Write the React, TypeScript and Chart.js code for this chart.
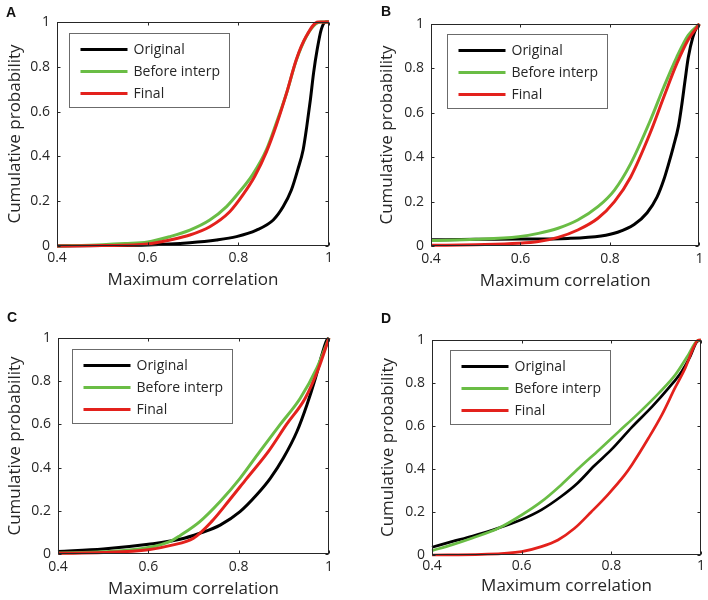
import React, { useEffect, useRef } from "react";
import { Chart, registerables } from "chart.js";

Chart.register(...registerables);

// ---------- data ----------
const SERIES_NAMES = ["Original", "Before interp", "Final"];
const SERIES_COLORS = ["#000000", "#6abd45", "#e3211c"];
const X_TICKS = [0.4, 0.6, 0.8, 1];
const Y_TICKS = [0, 0.2, 0.4, 0.6, 0.8, 1];
const X_TITLE = "Maximum correlation";
const Y_TITLE = "Cumulative probability";
const PANEL_LETTERS = ["A", "B", "C", "D"];

// Panel A
const A_ORIGINAL_X = [0.4, 0.5, 0.6, 0.693, 0.752, 0.796, 0.84, 0.877, 0.899, 0.917, 0.931, 0.943, 0.951, 0.959, 0.966, 0.974, 0.983, 0.993, 1.0];
const A_ORIGINAL_Y = [0, 0.002, 0.005, 0.015, 0.027, 0.042, 0.071, 0.116, 0.176, 0.25, 0.34, 0.43, 0.534, 0.654, 0.773, 0.878, 0.967, 1.0, 1.0];
const A_BEFORE_X = [0.4, 0.5, 0.55, 0.6, 0.649, 0.693, 0.737, 0.774, 0.803, 0.832, 0.862, 0.884, 0.906, 0.928, 0.95, 0.97, 0.982, 1.0];
const A_BEFORE_Y = [0, 0.006, 0.011, 0.018, 0.042, 0.071, 0.116, 0.176, 0.243, 0.32, 0.43, 0.55, 0.68, 0.83, 0.935, 0.99, 1.0, 1.0];
const A_FINAL_X = [0.4, 0.5, 0.6, 0.649, 0.693, 0.737, 0.781, 0.81, 0.836, 0.862, 0.884, 0.906, 0.928, 0.95, 0.976, 1.0];
const A_FINAL_Y = [0, 0.002, 0.009, 0.027, 0.049, 0.086, 0.153, 0.228, 0.31, 0.42, 0.54, 0.68, 0.833, 0.937, 1.0, 1.0];

// Panel B
const B_ORIGINAL_X = [0.4, 0.5, 0.596, 0.706, 0.78, 0.817, 0.854, 0.883, 0.905, 0.92, 0.931, 0.942, 0.953, 0.96, 0.968, 0.975, 0.985, 0.995, 1.0];
const B_ORIGINAL_Y = [0.028, 0.03, 0.031, 0.034, 0.045, 0.062, 0.097, 0.15, 0.22, 0.297, 0.37, 0.45, 0.54, 0.63, 0.75, 0.85, 0.94, 0.99, 1.0];
const B_BEFORE_X = [0.4, 0.5, 0.596, 0.64, 0.684, 0.728, 0.773, 0.81, 0.846, 0.89, 0.92, 0.949, 0.975, 1.0];
const B_BEFORE_Y = [0.025, 0.03, 0.042, 0.057, 0.08, 0.117, 0.177, 0.252, 0.37, 0.565, 0.715, 0.85, 0.95, 1.0];
const B_FINAL_X = [0.4, 0.5, 0.596, 0.64, 0.684, 0.728, 0.773, 0.81, 0.846, 0.89, 0.92, 0.949, 0.975, 1.0];
const B_FINAL_Y = [0.003, 0.006, 0.012, 0.02, 0.039, 0.072, 0.125, 0.2, 0.31, 0.51, 0.67, 0.82, 0.93, 1.0];

// Panel C
const C_ORIGINAL_X = [0.4, 0.5, 0.6, 0.67, 0.714, 0.759, 0.803, 0.84, 0.87, 0.899, 0.929, 0.951, 0.97, 0.984, 0.995, 1.0];
const C_ORIGINAL_Y = [0.012, 0.023, 0.045, 0.068, 0.096, 0.134, 0.196, 0.274, 0.35, 0.444, 0.567, 0.69, 0.815, 0.92, 0.99, 1.0];
const C_BEFORE_X = [0.4, 0.5, 0.6, 0.65, 0.67, 0.714, 0.759, 0.803, 0.847, 0.892, 0.936, 0.973, 1.0];
const C_BEFORE_Y = [0.005, 0.01, 0.03, 0.06, 0.085, 0.15, 0.243, 0.35, 0.475, 0.6, 0.72, 0.86, 1.0];
const C_FINAL_X = [0.4, 0.5, 0.6, 0.65, 0.7, 0.74, 0.777, 0.818, 0.866, 0.906, 0.947, 0.977, 1.0];
const C_FINAL_Y = [0.003, 0.007, 0.02, 0.04, 0.073, 0.15, 0.243, 0.35, 0.475, 0.6, 0.72, 0.86, 1.0];

// Panel D
const D_ORIGINAL_X = [0.4, 0.444, 0.489, 0.548, 0.6, 0.644, 0.688, 0.725, 0.762, 0.8, 0.846, 0.891, 0.928, 0.957, 0.976, 0.99, 1.0];
const D_ORIGINAL_Y = [0.036, 0.062, 0.087, 0.125, 0.165, 0.21, 0.272, 0.335, 0.415, 0.49, 0.595, 0.69, 0.777, 0.854, 0.924, 0.99, 1.0];
const D_BEFORE_X = [0.4, 0.444, 0.489, 0.548, 0.6, 0.644, 0.688, 0.728, 0.773, 0.817, 0.861, 0.906, 0.943, 0.972, 0.99, 1.0];
const D_BEFORE_Y = [0.02, 0.047, 0.078, 0.124, 0.186, 0.248, 0.326, 0.405, 0.49, 0.575, 0.66, 0.753, 0.839, 0.932, 0.994, 1.0];
const D_FINAL_X = [0.4, 0.511, 0.6, 0.644, 0.681, 0.718, 0.755, 0.792, 0.829, 0.846, 0.883, 0.913, 0.942, 0.965, 0.983, 0.994, 1.0];
const D_FINAL_Y = [0, 0.003, 0.016, 0.039, 0.07, 0.124, 0.2, 0.28, 0.37, 0.42, 0.544, 0.653, 0.777, 0.87, 0.963, 1.0, 1.0];

const PANEL_SERIES = [
  [[A_ORIGINAL_X, A_ORIGINAL_Y], [A_BEFORE_X, A_BEFORE_Y], [A_FINAL_X, A_FINAL_Y]],
  [[B_ORIGINAL_X, B_ORIGINAL_Y], [B_BEFORE_X, B_BEFORE_Y], [B_FINAL_X, B_FINAL_Y]],
  [[C_ORIGINAL_X, C_ORIGINAL_Y], [C_BEFORE_X, C_BEFORE_Y], [C_FINAL_X, C_FINAL_Y]],
  [[D_ORIGINAL_X, D_ORIGINAL_Y], [D_BEFORE_X, D_BEFORE_Y], [D_FINAL_X, D_FINAL_Y]],
];

// ---------- layout / style ----------
const W = 354;
const H = 300;
const FONT = "'Open Sans', 'DejaVu Sans', sans-serif";
const TEXT_COLOR = "#262626";

const LAYOUT = [
  { ox: 0, oy: 0, plot: [57, 22, 329, 246], legend: [12, 11], letter: [6, 17], yTitleX: 15, xTitleY: 280, xTickPad: 4, lw: 3 },
  { ox: 354, oy: 0, plot: [77, 24, 349, 246], legend: [16, 10], letter: [27, 16], yTitleX: 33, xTitleY: 281, xTickPad: 4.5, lw: 3 },
  { ox: 0, oy: 300, plot: [58, 38, 329, 254], legend: [14, 11], letter: [7, 22], yTitleX: 15, xTitleY: 289, xTickPad: 5, lw: 3 },
  { ox: 354, oy: 300, plot: [78, 40, 349, 255], legend: [18, 10], letter: [27, 23], yTitleX: 34, xTitleY: 286, xTickPad: 3, lw: 2.7 },
];

const fmt = (v: number) => String(Number(v.toFixed(1)));

function Panel({ index }: { index: number }) {
  const ref = useRef<HTMLCanvasElement>(null);
  useEffect(() => {
    const cfg = LAYOUT[index];
    const [pl, pt, pr, pb] = cfg.plot;
    const datasets = PANEL_SERIES[index].map(([xs, ys], i) => ({
      label: SERIES_NAMES[i],
      data: xs.map((x, j) => ({ x, y: ys[j] })),
      borderColor: SERIES_COLORS[i],
      backgroundColor: SERIES_COLORS[i],
      borderWidth: cfg.lw,
      pointRadius: 0,
      cubicInterpolationMode: "monotone" as const,
      clip: false as any,
      order: 2 - i,
    }));

    const decor = {
      id: "decor",
      afterDraw(chart: any) {
        const ctx = chart.ctx;
        const ca = chart.chartArea;
        const xs = chart.scales.x;
        const ys = chart.scales.y;
        ctx.save();
        // frame
        ctx.strokeStyle = TEXT_COLOR;
        ctx.lineWidth = 1;
        const L = Math.round(ca.left) + 0.5;
        const R = Math.round(ca.right) - 0.5;
        const T = Math.round(ca.top) + 0.5;
        const B = Math.round(ca.bottom) - 0.5;
        ctx.strokeRect(L, T, R - L, B - T);
        // inner ticks
        const tl = 3;
        ctx.beginPath();
        X_TICKS.forEach((v) => {
          const px = Math.round(xs.getPixelForValue(v)) + 0.5;
          ctx.moveTo(px, B);
          ctx.lineTo(px, B - tl);
          ctx.moveTo(px, T);
          ctx.lineTo(px, T + tl);
        });
        Y_TICKS.forEach((v) => {
          const py = Math.round(ys.getPixelForValue(v)) + 0.5;
          ctx.moveTo(L, py);
          ctx.lineTo(L + tl, py);
          ctx.moveTo(R, py);
          ctx.lineTo(R - tl, py);
        });
        ctx.stroke();
        // legend
        const bx = Math.round(ca.left + cfg.legend[0]) + 0.5;
        const by = Math.round(ca.top + cfg.legend[1]) + 0.5;
        const bw = 160;
        const bh = 74;
        ctx.fillStyle = "#ffffff";
        ctx.fillRect(bx, by, bw, bh);
        ctx.strokeStyle = "#6b6b6b";
        ctx.strokeRect(bx, by, bw, bh);
        ctx.font = `14px ${FONT}`;
        ctx.textBaseline = "middle";
        ctx.textAlign = "left";
        SERIES_NAMES.forEach((name, i) => {
          const ry = by + 16 + i * 22;
          ctx.strokeStyle = SERIES_COLORS[i];
          ctx.lineWidth = 3;
          ctx.beginPath();
          ctx.moveTo(bx + 11, ry);
          ctx.lineTo(bx + 58, ry);
          ctx.stroke();
          ctx.fillStyle = TEXT_COLOR;
          ctx.fillText(name, bx + 64, ry + 1);
        });
        // panel letter
        ctx.font = `bold 14px 'Liberation Sans', Arial, sans-serif`;
        ctx.fillStyle = "#111";
        ctx.textBaseline = "alphabetic";
        ctx.fillText(PANEL_LETTERS[index], cfg.letter[0], cfg.letter[1]);
        ctx.restore();
      },
    };

    const chart = new Chart(ref.current!, {
      type: "line",
      data: { datasets: datasets as any },
      options: {
        animation: false,
        responsive: false,
        devicePixelRatio: 1,
        layout: { padding: { left: 0, top: pt, right: W - pr, bottom: 0 } },
        plugins: { legend: { display: false }, tooltip: { enabled: false } },
        scales: {
          x: {
            type: "linear",
            min: 0.4,
            max: 1,
            afterBuildTicks: (s: any) => {
              s.ticks = X_TICKS.map((v) => ({ value: v }));
            },
            afterFit: (s: any) => {
              s.height = H - pb;
            },
            ticks: {
              callback: (v: any) => fmt(Number(v)),
              font: { family: FONT, size: 14 },
              color: TEXT_COLOR,
              padding: cfg.xTickPad,
              maxRotation: 0,
              autoSkip: false,
            },
            grid: { display: false, drawTicks: false },
            border: { display: false },
            title: {
              display: true,
              text: X_TITLE,
              font: { family: FONT, size: 17 },
              color: TEXT_COLOR,
              padding: { top: 0, bottom: H - cfg.xTitleY - 10.2 },
            },
          },
          y: {
            type: "linear",
            min: 0,
            max: 1,
            afterBuildTicks: (s: any) => {
              s.ticks = Y_TICKS.map((v) => ({ value: v }));
            },
            afterFit: (s: any) => {
              s.width = pl;
            },
            ticks: {
              callback: (v: any) => fmt(Number(v)),
              font: { family: FONT, size: 14 },
              color: TEXT_COLOR,
              padding: 7,
              autoSkip: false,
            },
            grid: { display: false, drawTicks: false },
            border: { display: false },
            title: {
              display: true,
              text: Y_TITLE,
              font: { family: FONT, size: 17 },
              color: TEXT_COLOR,
              padding: { top: cfg.yTitleX - 10.2, bottom: 0 },
            },
          },
        },
      },
      plugins: [decor],
    });
    return () => chart.destroy();
  }, [index]);

  const cfg = LAYOUT[index];
  return (
    <canvas
      ref={ref}
      width={W}
      height={H}
      style={{ position: "absolute", left: cfg.ox, top: cfg.oy, width: W, height: H }}
    />
  );
}

export default function App() {
  return (
    <div style={{ position: "absolute", left: 0, top: 0, width: 708, height: 600, background: "#fff", overflow: "hidden" }}>
      {[0, 1, 2, 3].map((i) => (
        <Panel key={i} index={i} />
      ))}
    </div>
  );
}
